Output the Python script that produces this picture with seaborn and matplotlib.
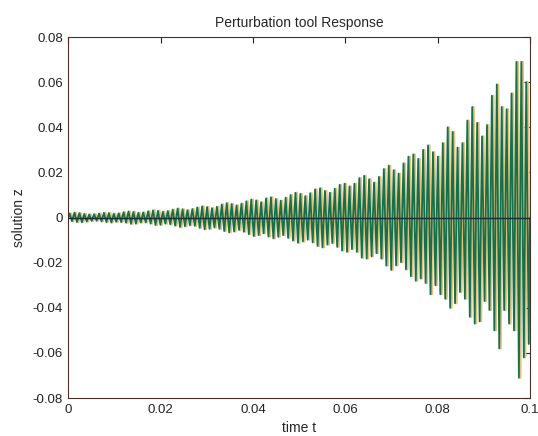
import numpy as np
import pandas as pd
import matplotlib
matplotlib.use("Agg")
import matplotlib.pyplot as plt
import seaborn as sns

# peak values of each oscillation cycle
upper_peaks = [
    0.0018, 0.0022, 0.0020, 0.0016, 0.0014, 0.0015, 0.0018, 0.0021, 0.0020, 0.0017,
    0.0019, 0.0024, 0.0027, 0.0025, 0.0021, 0.0023, 0.0028, 0.0032, 0.0030, 0.0026,
    0.0029, 0.0035, 0.0040, 0.0037, 0.0033, 0.0038, 0.0045, 0.0050, 0.0047, 0.0042,
    0.0048, 0.0058, 0.0064, 0.0060, 0.0054, 0.0062, 0.0072, 0.0080, 0.0076, 0.0068,
    0.0085, 0.0090, 0.0082, 0.0075, 0.0088, 0.0100, 0.0110, 0.0105, 0.0095, 0.0108,
    0.0125, 0.0130, 0.0118, 0.0110, 0.0128, 0.0145, 0.0150, 0.0138, 0.0150, 0.0175,
    0.0185, 0.0170, 0.0155, 0.0180, 0.0215, 0.0230, 0.0210, 0.0195,
    0.024, 0.027, 0.028, 0.026, 0.030, 0.032, 0.029,
    0.027, 0.033, 0.040, 0.038, 0.031, 0.033, 0.043, 0.049, 0.042, 0.036,
    0.041, 0.054, 0.059, 0.049, 0.048, 0.055, 0.069, 0.069, 0.060,
]
lower_peaks = [
    -0.0016, -0.0020, -0.0021, -0.0018, -0.0015, -0.0014, -0.0017, -0.0020, -0.0022, -0.0019,
    -0.0020, -0.0023, -0.0028, -0.0027, -0.0022, -0.0022, -0.0027, -0.0033, -0.0032, -0.0027,
    -0.0030, -0.0036, -0.0042, -0.0039, -0.0034, -0.0037, -0.0046, -0.0052, -0.0050, -0.0044,
    -0.0050, -0.0060, -0.0066, -0.0062, -0.0055, -0.0063, -0.0074, -0.0082, -0.0078, -0.0070,
    -0.0084, -0.0092, -0.0085, -0.0078, -0.0090, -0.0102, -0.0112, -0.0106, -0.0098, -0.0110,
    -0.0126, -0.0132, -0.0120, -0.0113, -0.0130, -0.0146, -0.0152, -0.0140, -0.0152, -0.0178,
    -0.0182, -0.0172, -0.0158, -0.0182, -0.0213, -0.0232, -0.0212, -0.0198,
    -0.023, -0.026, -0.028, -0.027, -0.029, -0.034, -0.030,
    -0.034, -0.036, -0.040, -0.038, -0.033, -0.036, -0.044, -0.047, -0.046, -0.037,
    -0.041, -0.050, -0.058, -0.041, -0.047, -0.050, -0.071, -0.062, -0.056,
]
t_end = 0.1
x_ticks = [0, 0.02, 0.04, 0.06, 0.08, 0.1]
x_labels = ["0", "0.02", "0.04", "0.06", "0.08", "0.1"]
y_ticks = [-0.08, -0.06, -0.04, -0.02, 0, 0.02, 0.04, 0.06, 0.08]
y_labels = ["-0.08", "-0.06", "-0.04", "-0.02", "0", "0.02", "0.04", "0.06", "0.08"]


def zigzag(shift):
    n = len(upper_peaks)
    period = t_end / n
    t = [0.0]
    z = [0.0]
    for k in range(n):
        t += [(k + 0.25 + shift) * period, (k + 0.75 + shift) * period]
        z += [upper_peaks[k], lower_peaks[k]]
    t.append(t_end)
    z.append(0.0)
    return pd.DataFrame({"t": t, "z": z})


green = zigzag(0.0)
orange = zigzag(0.3)

sns.set_style("white")
plt.rcParams["font.family"] = ["Liberation Sans", "DejaVu Sans"]

fig = plt.figure(figsize=(5.38, 4.36), dpi=100)
ax = fig.add_axes([0.127, 0.087, 0.858, 0.828])

sns.lineplot(data=orange, x="t", y="z", ax=ax, color="#e3c27e", lw=1.6,
             estimator=None, sort=False)
sns.lineplot(data=green, x="t", y="z", ax=ax, color="#16704c", lw=1.3,
             estimator=None, sort=False)
ax.axhline(0, color="#1a2a3a", lw=1.0)

ax.set_xlim(0, 0.1)
ax.set_ylim(-0.08, 0.08)
ax.set_xticks(x_ticks)
ax.set_xticklabels(x_labels)
ax.set_yticks(y_ticks)
ax.set_yticklabels(y_labels)
ax.tick_params(direction="in", length=4, width=0.8, labelsize=9.5,
               top=True, right=True, colors="#222222", pad=4)
for side in ax.spines.values():
    side.set_color("#4a3028")
    side.set_linewidth(0.8)

ax.set_title("Perturbation tool Response", fontsize=10, pad=7)
ax.set_xlabel("time t", fontsize=10, labelpad=4)
ax.set_ylabel("solution z", fontsize=10, labelpad=5)

fig.savefig("out.png", dpi=100)
